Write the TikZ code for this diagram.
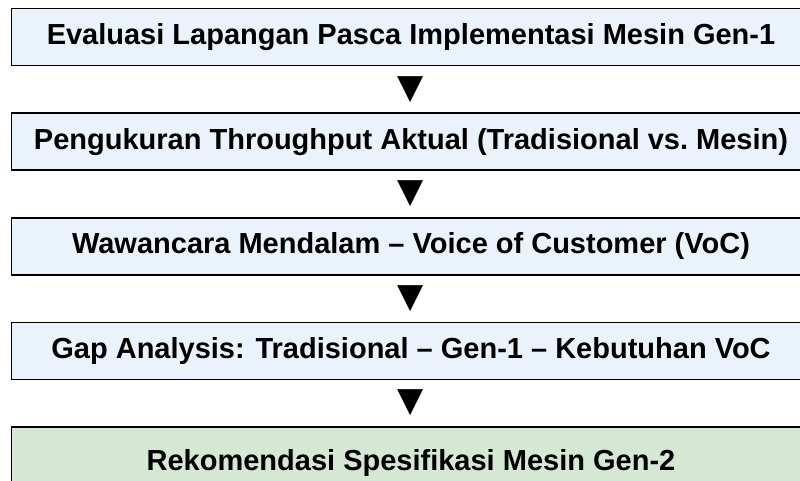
\documentclass[tikz,border=0pt]{standalone}
\usepackage{fontspec}
\setmainfont{Liberation Sans}
\newfontfamily\symfont{DejaVu Sans}
\usetikzlibrary{positioning,calc}
\definecolor{stepblue}{RGB}{234,242,251}
\definecolor{stepgreen}{RGB}{213,232,212}
\begin{document}
\begin{tikzpicture}[x=1pt,y=1pt,
  stepbox/.style={draw=black, line width=1.6pt, fill=stepblue, minimum width=799pt, minimum height=57pt, inner sep=0pt, font=\bfseries\fontsize{29}{32}\selectfont},
  downmark/.style={inner sep=0pt, font=\symfont\fontsize{34}{36}\selectfont}]
\useasboundingbox (0,0) rectangle (800,480);
\clip (0,0) rectangle (800,480);
\node[stepbox] (eval) at (411,443) {Evaluasi Lapangan Pasca Implementasi Mesin Gen-1};
\node[stepbox, below=46pt of eval] (ukur) {Pengukuran Throughput Aktual (Tradisional vs.\ Mesin)};
\node[stepbox, below=46pt of ukur] (voc) {Wawancara Mendalam – Voice of Customer (VoC)};
\node[stepbox, below=46pt of voc] (gap) {Gap Analysis: Tradisional – Gen-1 – Kebutuhan VoC};
\node[stepbox, fill=stepgreen, minimum height=72pt, below=46pt of gap] (rekom) {Rekomendasi Spesifikasi Mesin Gen-2};
\node[downmark] (m1) at ($(eval.south)!.5!(ukur.north)$) {▼};
\node[downmark] (m2) at ($(ukur.south)!.5!(voc.north)$) {▼};
\node[downmark] (m3) at ($(voc.south)!.5!(gap.north)$) {▼};
\node[downmark] (m4) at ($(gap.south)!.5!(rekom.north)$) {▼};
\end{tikzpicture}
\end{document}
